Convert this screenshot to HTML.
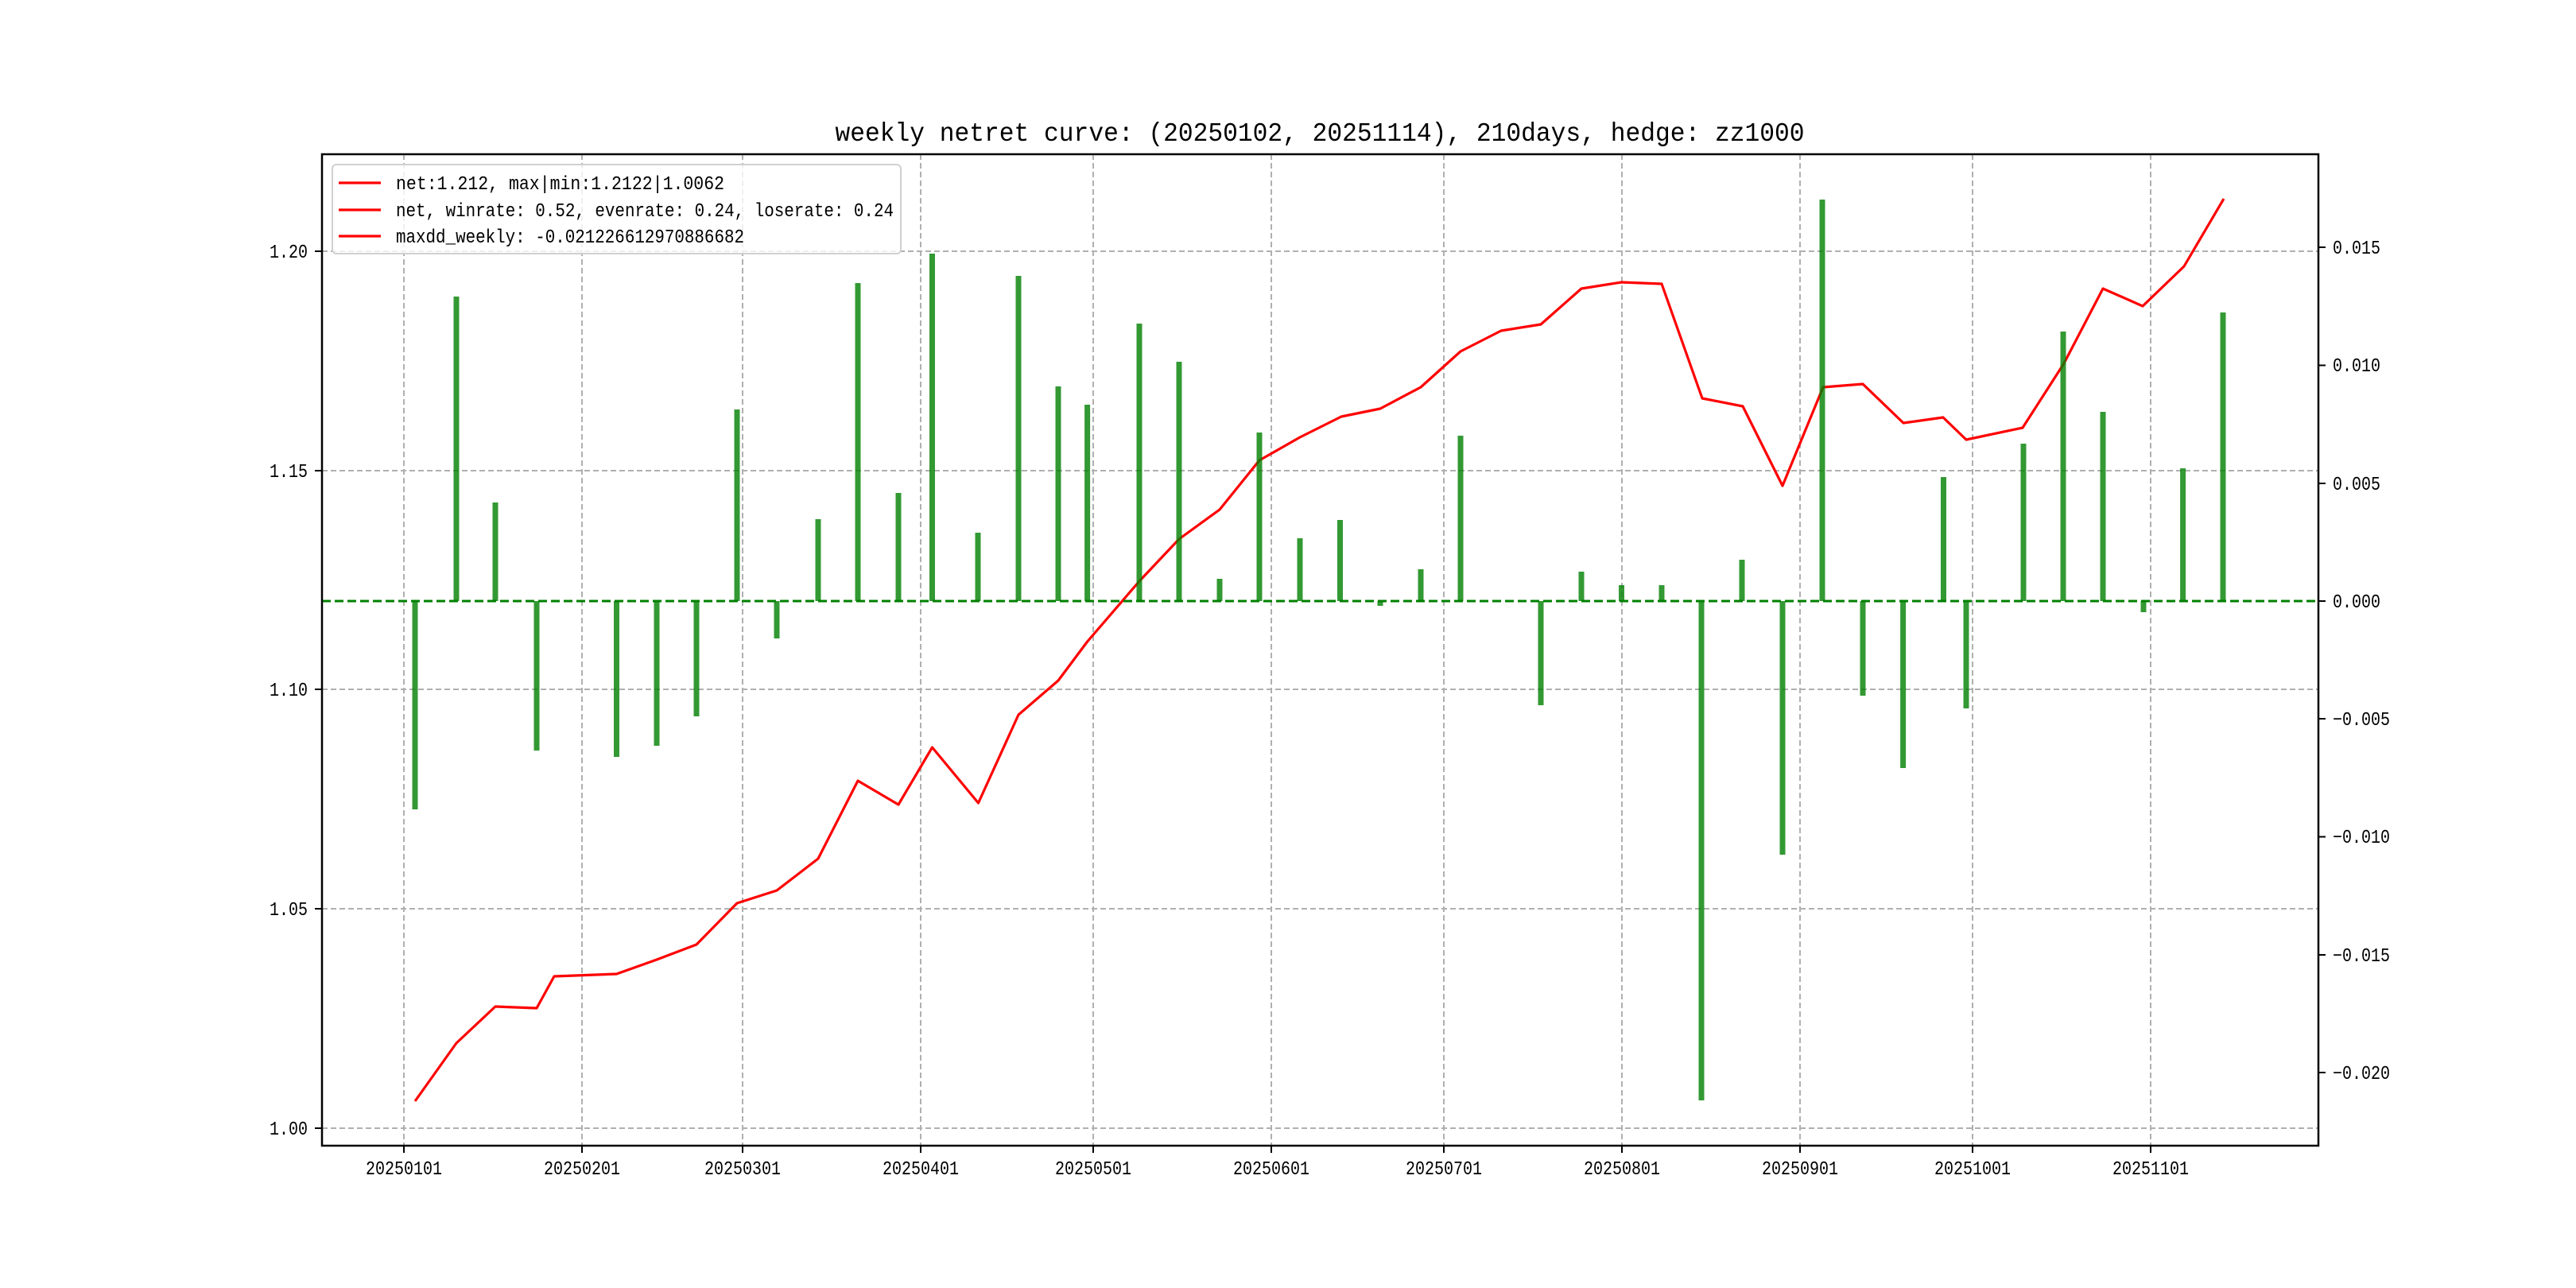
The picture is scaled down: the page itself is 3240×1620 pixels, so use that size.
<!DOCTYPE html>
<html><head><meta charset="utf-8"><style>
html,body{margin:0;padding:0;background:#fff;}
svg{display:block;}
text{font-family:"Liberation Mono","WenQuanYi Zen Hei",monospace;fill:#000;}
</style></head><body>
<svg width="3240" height="1620" viewBox="0 0 3240 1620" xmlns="http://www.w3.org/2000/svg">
<rect width="3240" height="1620" fill="#fff"/>
<text x="1660" y="177" font-size="33" text-anchor="middle" textLength="1219" lengthAdjust="spacingAndGlyphs">weekly netret curve: (20250102, 20251114), 210days, hedge: zz1000</text>
<g stroke="#b0b0b0" stroke-width="2" stroke-dasharray="7,4" fill="none">
<line x1="405" x2="2916" y1="1419" y2="1419"/>
<line x1="405" x2="2916" y1="1143" y2="1143"/>
<line x1="405" x2="2916" y1="867" y2="867"/>
<line x1="405" x2="2916" y1="592" y2="592"/>
<line x1="405" x2="2916" y1="316" y2="316"/>
<line x1="508" x2="508" y1="194" y2="1441"/>
<line x1="732" x2="732" y1="194" y2="1441"/>
<line x1="934" x2="934" y1="194" y2="1441"/>
<line x1="1158" x2="1158" y1="194" y2="1441"/>
<line x1="1375" x2="1375" y1="194" y2="1441"/>
<line x1="1599" x2="1599" y1="194" y2="1441"/>
<line x1="1816" x2="1816" y1="194" y2="1441"/>
<line x1="2040" x2="2040" y1="194" y2="1441"/>
<line x1="2264" x2="2264" y1="194" y2="1441"/>
<line x1="2481" x2="2481" y1="194" y2="1441"/>
<line x1="2705" x2="2705" y1="194" y2="1441"/>
</g>
<polyline fill="none" stroke="#ff0000" stroke-width="3.2" stroke-linejoin="round" points="522,1385 574,1312 623,1266 675,1268 697,1228 775.5,1225 826,1207 876,1188 927,1136 977,1120 1029,1080 1079,982 1130,1012 1172.5,940 1230.5,1010 1281,899 1331,856 1367.6,807 1433,731 1483,678 1534,641 1584,579 1635,550 1687,524 1736,514 1787,487 1837,442 1888,416 1938,408 1989,363 2039.5,355 2090,357 2141,501 2192,511 2242,611 2293,487 2343,483 2394,532 2444,525 2473,553 2544,538 2596,457 2645,363 2695,385 2747,335 2797,250"/>
<g id="bars" fill="#008000" fill-opacity="0.8"></g>
<line x1="405" x2="2916" y1="756" y2="756" stroke="#008000" stroke-width="3" stroke-dasharray="11,5"/>
<rect x="405" y="194" width="2511" height="1247" fill="none" stroke="#000" stroke-width="2.5"/>
<g stroke="#000" stroke-width="2">
<line x1="396" x2="405" y1="1419" y2="1419"/><line x1="396" x2="405" y1="1143" y2="1143"/><line x1="396" x2="405" y1="867" y2="867"/><line x1="396" x2="405" y1="592" y2="592"/><line x1="396" x2="405" y1="316" y2="316"/>
<line x1="2916" x2="2925" y1="311" y2="311"/><line x1="2916" x2="2925" y1="459.5" y2="459.5"/><line x1="2916" x2="2925" y1="608" y2="608"/><line x1="2916" x2="2925" y1="756" y2="756"/><line x1="2916" x2="2925" y1="904" y2="904"/><line x1="2916" x2="2925" y1="1052.5" y2="1052.5"/><line x1="2916" x2="2925" y1="1201" y2="1201"/><line x1="2916" x2="2925" y1="1349" y2="1349"/>
<line x1="508" x2="508" y1="1441" y2="1450"/><line x1="732" x2="732" y1="1441" y2="1450"/><line x1="934" x2="934" y1="1441" y2="1450"/><line x1="1158" x2="1158" y1="1441" y2="1450"/><line x1="1375" x2="1375" y1="1441" y2="1450"/><line x1="1599" x2="1599" y1="1441" y2="1450"/><line x1="1816" x2="1816" y1="1441" y2="1450"/><line x1="2040" x2="2040" y1="1441" y2="1450"/><line x1="2264" x2="2264" y1="1441" y2="1450"/><line x1="2481" x2="2481" y1="1441" y2="1450"/><line x1="2705" x2="2705" y1="1441" y2="1450"/>
</g>
<g font-size="24" text-anchor="end">
<text x="387" y="1427" textLength="48" lengthAdjust="spacingAndGlyphs">1.00</text><text x="387" y="1151" textLength="48" lengthAdjust="spacingAndGlyphs">1.05</text><text x="387" y="875" textLength="48" lengthAdjust="spacingAndGlyphs">1.10</text><text x="387" y="600" textLength="48" lengthAdjust="spacingAndGlyphs">1.15</text><text x="387" y="324" textLength="48" lengthAdjust="spacingAndGlyphs">1.20</text>
</g>
<g font-size="24">
<text x="2934" y="319" textLength="60" lengthAdjust="spacingAndGlyphs">0.015</text><text x="2934" y="467" textLength="60" lengthAdjust="spacingAndGlyphs">0.010</text><text x="2934" y="616" textLength="60" lengthAdjust="spacingAndGlyphs">0.005</text><text x="2934" y="764" textLength="60" lengthAdjust="spacingAndGlyphs">0.000</text><text x="2934" y="912" textLength="72" lengthAdjust="spacingAndGlyphs">−0.005</text><text x="2934" y="1060" textLength="72" lengthAdjust="spacingAndGlyphs">−0.010</text><text x="2934" y="1209" textLength="72" lengthAdjust="spacingAndGlyphs">−0.015</text><text x="2934" y="1357" textLength="72" lengthAdjust="spacingAndGlyphs">−0.020</text>
</g>
<g font-size="24" text-anchor="middle">
<text x="508" y="1477" textLength="96" lengthAdjust="spacingAndGlyphs">20250101</text><text x="732" y="1477" textLength="96" lengthAdjust="spacingAndGlyphs">20250201</text><text x="934" y="1477" textLength="96" lengthAdjust="spacingAndGlyphs">20250301</text><text x="1158" y="1477" textLength="96" lengthAdjust="spacingAndGlyphs">20250401</text><text x="1375" y="1477" textLength="96" lengthAdjust="spacingAndGlyphs">20250501</text><text x="1599" y="1477" textLength="96" lengthAdjust="spacingAndGlyphs">20250601</text><text x="1816" y="1477" textLength="96" lengthAdjust="spacingAndGlyphs">20250701</text><text x="2040" y="1477" textLength="96" lengthAdjust="spacingAndGlyphs">20250801</text><text x="2264" y="1477" textLength="96" lengthAdjust="spacingAndGlyphs">20250901</text><text x="2481" y="1477" textLength="96" lengthAdjust="spacingAndGlyphs">20251001</text><text x="2705" y="1477" textLength="96" lengthAdjust="spacingAndGlyphs">20251101</text>
</g>
<rect x="418" y="207" width="715" height="112" rx="5" fill="#fff" fill-opacity="0.8" stroke="#d0d0d0" stroke-width="2"/>
<g stroke="#ff0000" stroke-width="3.2">
<line x1="426" x2="479" y1="230" y2="230"/><line x1="426" x2="479" y1="264" y2="264"/><line x1="426" x2="479" y1="297" y2="297"/>
</g>
<g font-size="24">
<text x="498" y="238" textLength="413" lengthAdjust="spacingAndGlyphs">net:1.212, max|min:1.2122|1.0062</text>
<text x="498" y="272" textLength="626" lengthAdjust="spacingAndGlyphs">net, winrate: 0.52, evenrate: 0.24, loserate: 0.24</text>
<text x="498" y="305" textLength="438" lengthAdjust="spacingAndGlyphs">maxdd_weekly: -0.021226612970886682</text>
</g>
<script>
var d=[[522,1018],[574,373],[623,632],[675,944],[775.5,952],[826,938],[876,901],[927,515],[977,803],[1029,653],[1079,356],[1130,620],[1172.5,319],[1230,670],[1281,347],[1331,486],[1367.6,509],[1433,407],[1483,455],[1534,728],[1584,544],[1635,677],[1685.5,654],[1736,762],[1787,716],[1837,548],[1938,887],[1989,719],[2039.5,736],[2090,736],[2140,1384],[2191,704],[2242,1075],[2292,251],[2343,875],[2393.6,966],[2444.5,600],[2473,891],[2545,558],[2595,417],[2645,518],[2696,770],[2745.6,589],[2796,393]];
var g=document.getElementById('bars'),ns='http://www.w3.org/2000/svg';
d.forEach(function(p){var r=document.createElementNS(ns,'rect');var y0=Math.min(756,p[1]),h=Math.abs(p[1]-756);r.setAttribute('x',p[0]-3.5);r.setAttribute('y',y0);r.setAttribute('width',7);r.setAttribute('height',h);g.appendChild(r);});
</script>
</svg>
</body></html>
